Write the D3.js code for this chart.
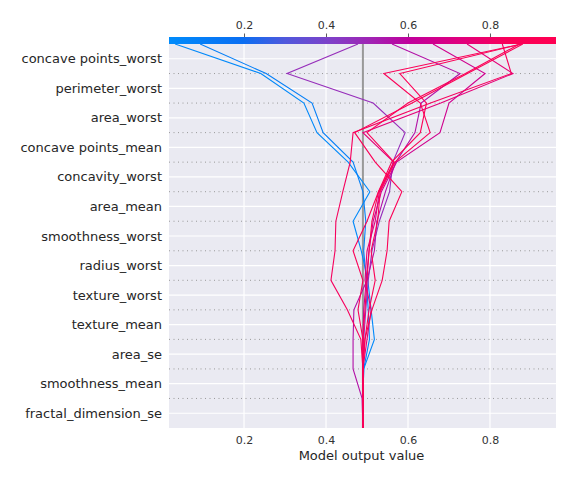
<!DOCTYPE html>
<html>
<head>
<meta charset="utf-8">
<script src="https://cdn.jsdelivr.net/npm/d3@7"></script>
<style>
  body { margin: 0; background: #fff; }
  text { font-family: "DejaVu Sans", sans-serif; }
</style>
</head>
<body>
<svg id="chart" width="576" height="482"></svg>
<script>
// features, top to bottom (most important first)
const features = ["concave points_worst", "perimeter_worst", "area_worst", "concave points_mean",
  "concavity_worst", "area_mean", "smoothness_worst", "radius_worst", "texture_worst",
  "texture_mean", "area_se", "smoothness_mean", "fractal_dimension_se"];

const baseValue = 0.49;
const xTicks = [0.2, 0.4, 0.6, 0.8];

// cumulative model output per observation, read from the top (final output) down to the last feature
const obsBlueA  = [0.032, 0.241, 0.346, 0.378, 0.454, 0.507, 0.466, 0.486, 0.502, 0.510, 0.518, 0.492, 0.490];
const obsBlueB  = [0.093, 0.254, 0.366, 0.393, 0.466, 0.490, 0.497, 0.492, 0.498, 0.503, 0.506, 0.492, 0.490];
const obsPurple = [0.478, 0.305, 0.515, 0.593, 0.563, 0.555, 0.530, 0.512, 0.503, 0.497, 0.492, 0.490, 0.490];
const obsMag1   = [0.561, 0.727, 0.632, 0.617, 0.570, 0.545, 0.524, 0.518, 0.500, 0.468, 0.466, 0.466, 0.488];
const obsMag2   = [0.661, 0.788, 0.700, 0.678, 0.572, 0.535, 0.515, 0.505, 0.498, 0.492, 0.490, 0.490, 0.490];
const obsMag3   = [0.744, 0.856, 0.680, 0.490, 0.565, 0.530, 0.520, 0.500, 0.495, 0.510, 0.500, 0.490, 0.490];
const obsRed1   = [0.830, 0.852, 0.655, 0.466, 0.459, 0.441, 0.424, 0.422, 0.412, 0.452, 0.485, 0.490, 0.490];
const obsRed2   = [0.878, 0.541, 0.630, 0.654, 0.568, 0.532, 0.526, 0.510, 0.520, 0.505, 0.495, 0.490, 0.490];
const obsRed3   = [0.876, 0.580, 0.645, 0.630, 0.560, 0.528, 0.512, 0.505, 0.500, 0.495, 0.490, 0.490, 0.490];
const obsRed4   = [0.880, 0.745, 0.610, 0.470, 0.520, 0.585, 0.554, 0.549, 0.537, 0.512, 0.495, 0.490, 0.490];
const obsRed5   = [0.872, 0.740, 0.600, 0.500, 0.566, 0.528, 0.500, 0.466, 0.490, 0.478, 0.490, 0.490, 0.490];

const observations = [obsBlueA, obsBlueB, obsPurple, obsMag1, obsMag2, obsMag3, obsRed1, obsRed2, obsRed3, obsRed4, obsRed5];

const svg = d3.select('#chart');
const pLeft = 169, pRight = 556, pTop = 44, pBottom = 428;

const x = d3.scaleLinear().domain([0.017, 0.961]).range([pLeft, pRight]);
const y = d3.scaleLinear().domain([0, features.length]).range([pBottom, pTop]);

// shap red_blue like colormap over the x range
const cStops = [0, 0.19, 0.3, 0.42, 0.52, 0.62, 0.75, 0.88, 1];
const cCols = ['#008bfb', '#0a6ef2', '#5058dc', '#8040c8', '#a024b4', '#c0009c', '#e0007e', '#fa0058', '#ff0052'];
const tScale = d3.scaleLinear().domain(x.domain()).range([0, 1]).clamp(true);
const cScale = d3.scaleLinear().domain(cStops).range(cCols).interpolate(d3.interpolateRgb);
const color = v => cScale(tScale(v));

// background
svg.append('rect').attr('x', pLeft).attr('y', pTop).attr('width', pRight - pLeft).attr('height', pBottom - pTop)
  .attr('fill', '#eaeaf2');

// white grid: verticals at ticks, horizontals at feature rows
svg.append('g').selectAll('line').data(xTicks).join('line')
  .attr('x1', d => x(d)).attr('x2', d => x(d)).attr('y1', pTop).attr('y2', pBottom)
  .attr('stroke', '#fff').attr('stroke-width', 1.2);
svg.append('g').selectAll('line').data(features).join('line')
  .attr('x1', pLeft).attr('x2', pRight)
  .attr('y1', (d, i) => y(features.length - i - 0.5)).attr('y2', (d, i) => y(features.length - i - 0.5))
  .attr('stroke', '#fff').attr('stroke-width', 1.2);

// dotted separators
svg.append('g').selectAll('line').data(d3.range(1, features.length)).join('line')
  .attr('x1', pLeft).attr('x2', pRight).attr('y1', d => y(d)).attr('y2', d => y(d))
  .attr('stroke', '#999').attr('stroke-width', 1).attr('stroke-dasharray', '1,3.5');

// base value line
svg.append('line').attr('x1', x(baseValue)).attr('x2', x(baseValue)).attr('y1', pTop).attr('y2', pBottom)
  .attr('stroke', '#999').attr('stroke-width', 2);

// decision lines
const line = d3.line().x(d => x(d.v)).y(d => y(d.k));
svg.append('g').selectAll('path').data(observations).join('path')
  .attr('d', o => {
    const pts = o.map((v, i) => ({ v: v, k: features.length - i }));
    pts.push({ v: baseValue, k: 0 });
    return line(pts);
  })
  .attr('fill', 'none').attr('stroke', o => color(o[0])).attr('stroke-width', 1.1);

// y labels
svg.append('g').selectAll('text').data(features).join('text')
  .attr('x', 162).attr('y', (d, i) => y(features.length - i - 0.5)).attr('dy', '0.35em')
  .attr('text-anchor', 'end').attr('font-size', 13).attr('fill', '#262626').text(d => d);

// bottom axis
const xAxis = svg.append('g').attr('transform', `translate(0,${pBottom})`)
  .call(d3.axisBottom(x).tickValues(xTicks).tickSize(0).tickPadding(8).tickFormat(d3.format('.1f')));
xAxis.select('.domain').remove();
xAxis.selectAll('text').attr('font-size', 11).attr('fill', '#333').style('font-family', '"DejaVu Sans", sans-serif');

svg.append('text').attr('x', (pLeft + pRight) / 2 - 1).attr('y', 460).attr('text-anchor', 'middle')
  .attr('font-size', 13).attr('fill', '#262626').text('Model output value');

// colorbar on top
const grad = svg.append('defs').append('linearGradient').attr('id', 'cbar');
cStops.forEach((s, i) => grad.append('stop').attr('offset', s).attr('stop-color', cCols[i]));
svg.append('rect').attr('x', pLeft).attr('y', 37).attr('width', pRight - pLeft).attr('height', 7)
  .attr('fill', 'url(#cbar)');

const cAxis = svg.append('g').attr('transform', 'translate(0,37)')
  .call(d3.axisTop(x).tickValues(xTicks).tickSize(3.5).tickPadding(5).tickFormat(d3.format('.1f')));
cAxis.select('.domain').remove();
cAxis.selectAll('line').attr('stroke', '#333').attr('stroke-width', 0.8);
cAxis.selectAll('text').attr('font-size', 11).attr('fill', '#333').style('font-family', '"DejaVu Sans", sans-serif');
</script>
</body>
</html>
